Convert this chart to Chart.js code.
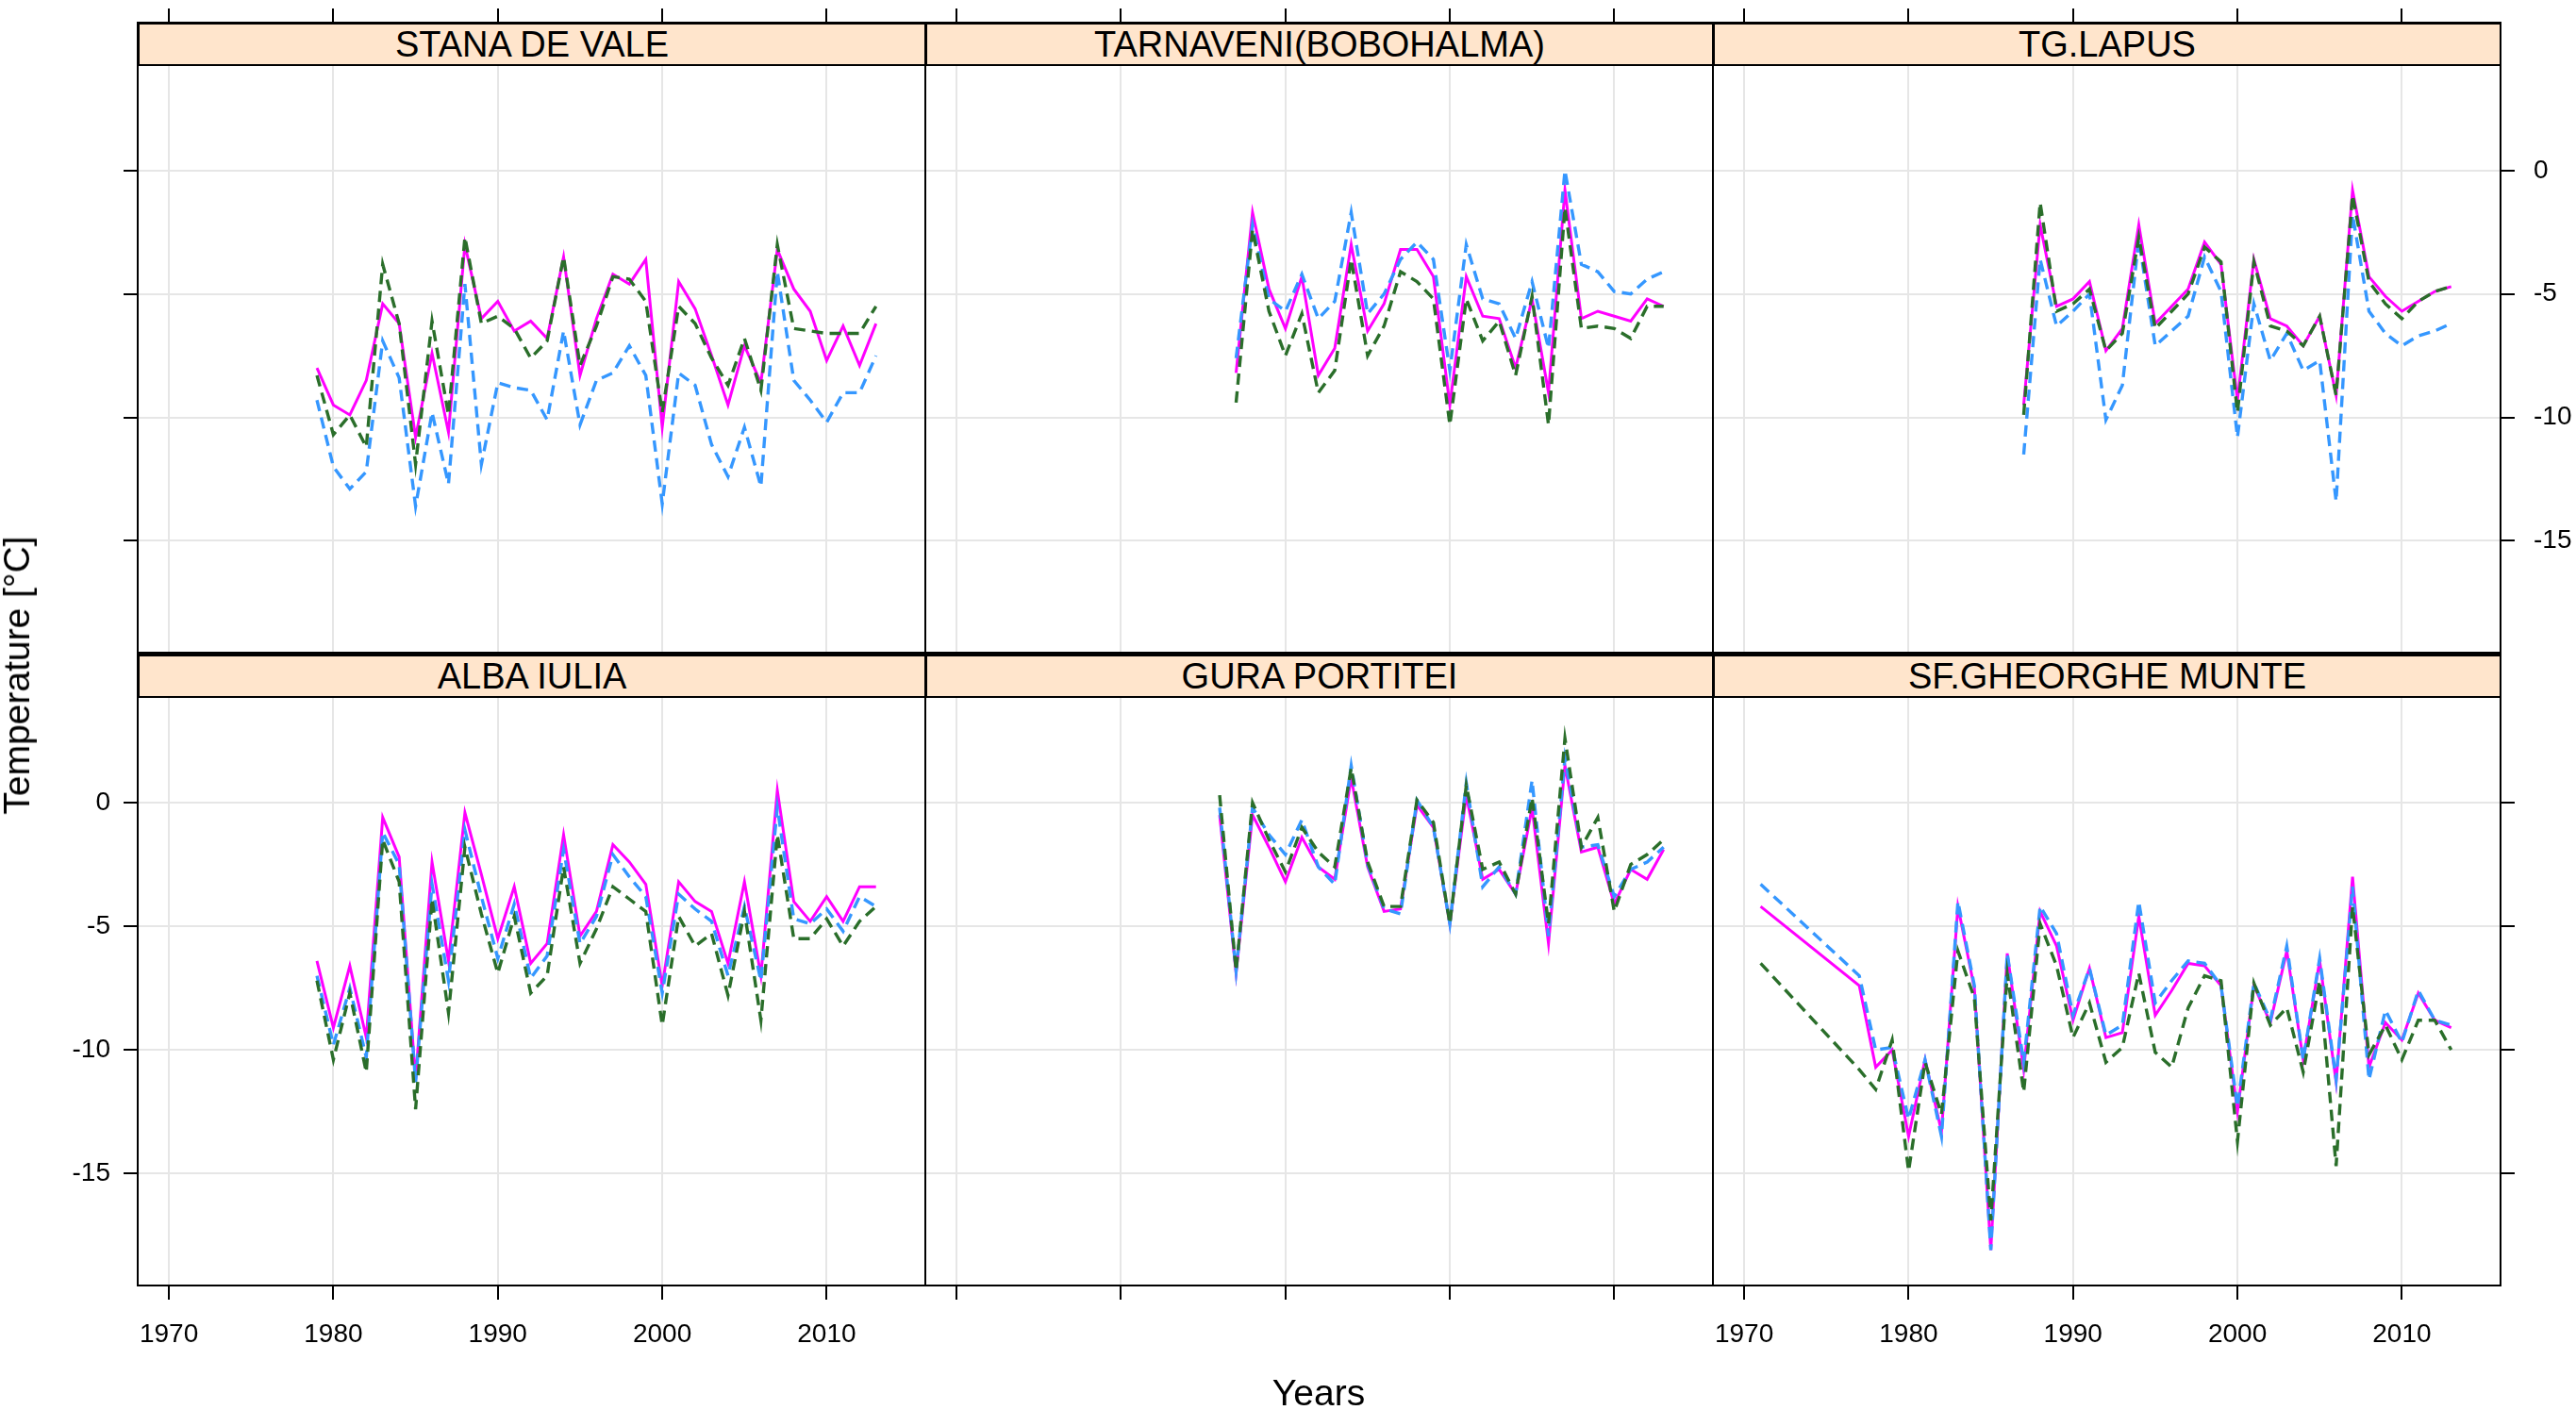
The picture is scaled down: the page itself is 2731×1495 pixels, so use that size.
<!DOCTYPE html>
<html>
<head>
<meta charset="utf-8">
<script src="https://cdn.jsdelivr.net/npm/chart.js@4.4.1/dist/chart.umd.min.js"></script>
<style>
  html, body { margin: 0; padding: 0; background: #fff; }
  body { width: 2731px; height: 1495px; position: relative; overflow: hidden;
         font-family: "Liberation Sans", Arial, sans-serif; }
  canvas { position: absolute; }
  .strip { position: absolute; box-sizing: border-box; background: #ffe5cc;
           border: 2px solid #000; text-align: center; font-size: 38px; color: #000; }
  .title { position: absolute; font-size: 39px; color: #000; white-space: nowrap; }
</style>
</head>
<body>
<script>
'use strict';

// Roky (osa x)
const years79 = [1979, 1980, 1981, 1982, 1983, 1984, 1985, 1986, 1987, 1988, 1989, 1990, 1991, 1992, 1993, 1994, 1995, 1996,
    1997, 1998, 1999, 2000, 2001, 2002, 2003, 2004, 2005, 2006, 2007, 2008, 2009, 2010, 2011, 2012, 2013];
const years87 = [1987, 1988, 1989, 1990, 1991, 1992, 1993, 1994, 1995, 1996, 1997, 1998, 1999, 2000, 2001, 2002, 2003,
    2004, 2005, 2006, 2007, 2008, 2009, 2010, 2011, 2012, 2013];
const years86 = [1986, 1987, 1988, 1989, 1990, 1991, 1992, 1993, 1994, 1995, 1996, 1997, 1998, 1999, 2000, 2001, 2002,
    2003, 2004, 2005, 2006, 2007, 2008, 2009, 2010, 2011, 2012, 2013];
const years71 = [1971, 1977, 1978, 1979, 1980, 1981, 1982, 1983, 1984, 1985, 1986, 1987, 1988, 1989, 1990, 1991, 1992,
    1993, 1994, 1995, 1996, 1997, 1998, 1999, 2000, 2001, 2002, 2003, 2004, 2005, 2006, 2007, 2008, 2009, 2010, 2011,
    2012, 2013];

// Popisky os
const xTicks = [1970, 1980, 1990, 2000, 2010];
const yTicks = [0, -5, -10, -15];

// STANA DE VALE
const stanaPink = [-8.0, -9.5, -9.9, -8.5, -5.4, -6.2, -10.8, -7.4, -10.6, -3.0, -6.0, -5.3, -6.5, -6.1, -6.8, -3.5, -8.3,
    -6.0, -4.2, -4.6, -3.6, -10.4, -4.5, -5.6, -7.5, -9.5, -7.1, -8.6, -3.2, -4.8, -5.7, -7.7, -6.3, -7.9, -6.2];
const stanaBlue = [-9.3, -12.0, -12.9, -12.2, -6.9, -8.4, -13.6, -9.8, -12.7, -4.6, -11.9, -8.6, -8.8, -8.9, -10.1, -6.5,
    -10.3, -8.5, -8.2, -7.1, -8.3, -13.5, -8.2, -8.7, -11.1, -12.4, -10.4, -12.8, -4.1, -8.5, -9.3, -10.2, -9.0, -9.0, -7.5];
const stanaGreen = [-8.3, -10.7, -9.9, -11.2, -3.8, -6.2, -11.9, -6.1, -9.9, -2.7, -6.2, -5.9, -6.4, -7.6, -6.9, -3.5, -7.9,
    -6.3, -4.3, -4.4, -5.3, -9.8, -5.5, -6.2, -7.6, -8.7, -6.8, -8.9, -3.0, -6.4, -6.5, -6.6, -6.6, -6.6, -5.5];

// TARNAVENI(BOBOHALMA)
const tarnPink = [-8.2, -1.7, -4.8, -6.4, -4.3, -8.3, -7.2, -3.0, -6.5, -5.4, -3.2, -3.2, -4.3, -9.5, -4.3, -5.9, -6.0,
    -8.0, -5.2, -9.0, -0.8, -6.0, -5.7, -5.9, -6.1, -5.2, -5.5];
const tarnBlue = [-7.6, -2.2, -5.2, -5.7, -4.2, -6.0, -5.3, -1.7, -5.8, -5.0, -3.6, -2.9, -3.6, -8.1, -3.0, -5.2, -5.4,
    -6.8, -4.5, -7.2, 0.0, -3.8, -4.1, -4.9, -5.0, -4.4, -4.1];
const tarnGreen = [-9.4, -2.4, -5.7, -7.5, -5.8, -9.0, -8.1, -3.6, -7.5, -6.3, -4.1, -4.5, -5.2, -10.3, -5.2, -6.9, -6.1,
    -8.3, -5.1, -10.3, -1.5, -6.4, -6.3, -6.4, -6.8, -5.5, -5.5];

// TG.LAPUS
const lapusPink = [-9.5, -2.2, -5.5, -5.2, -4.5, -7.3, -6.4, -2.2, -6.2, -5.5, -4.8, -2.9, -3.8, -9.3, -3.6, -6.0, -6.3,
    -7.1, -5.9, -9.1, -0.8, -4.3, -5.1, -5.7, -5.3, -4.9, -4.7];
const lapusBlue = [-11.5, -3.6, -6.3, -5.7, -5.0, -10.1, -8.7, -2.8, -7.1, -6.5, -5.9, -3.5, -4.9, -10.8, -5.4, -7.7, -6.6,
    -8.1, -7.7, -13.4, -1.8, -5.7, -6.6, -7.1, -6.7, -6.5, -6.2];
const lapusGreen = [-9.9, -1.3, -5.7, -5.4, -4.8, -7.3, -6.6, -2.7, -6.4, -5.7, -5.0, -3.1, -3.7, -9.8, -3.7, -6.3, -6.5,
    -7.1, -5.9, -9.1, -1.0, -4.5, -5.4, -6.0, -5.3, -4.9, -4.7];

// ALBA IULIA
const albaPink = [-6.4, -9.1, -6.6, -9.5, -0.6, -2.2, -11.2, -2.4, -6.4, -0.4, -2.9, -5.5, -3.4, -6.5, -5.7, -1.3, -5.4,
    -4.4, -1.7, -2.4, -3.3, -7.4, -3.2, -4.0, -4.4, -6.5, -3.2, -7.0, 0.5, -4.0, -4.8, -3.8, -4.8, -3.4, -3.4];
const albaBlue = [-7.0, -9.8, -7.5, -10.3, -1.2, -2.5, -11.3, -3.3, -7.2, -1.1, -3.8, -6.3, -4.1, -7.1, -6.2, -1.9, -5.7,
    -4.6, -2.1, -3.0, -3.8, -7.7, -3.7, -4.3, -4.8, -7.0, -4.2, -7.2, -0.2, -4.7, -4.9, -4.3, -5.2, -3.8, -4.2];
const albaGreen = [-7.2, -10.4, -7.7, -10.9, -1.5, -3.2, -12.4, -3.9, -8.5, -1.8, -4.5, -6.9, -4.6, -7.7, -7.0, -2.6, -6.5,
    -5.1, -3.4, -3.9, -4.4, -9.0, -4.6, -5.8, -5.3, -7.8, -4.4, -8.8, -1.3, -5.5, -5.5, -4.7, -5.8, -4.8, -4.2];

// GURA PORTITEI
const guraPink = [-0.5, -6.9, -0.5, -1.8, -3.2, -1.4, -2.6, -3.1, 1.0, -2.6, -4.4, -4.3, -0.1, -1.0, -4.9, 0.3, -3.1,
    -2.7, -3.7, -0.2, -5.7, 1.5, -2.0, -1.8, -4.1, -2.7, -3.1, -1.9];
const guraBlue = [-0.2, -6.8, -0.2, -1.3, -2.1, -0.7, -2.6, -3.3, 1.5, -2.5, -4.3, -4.5, 0.1, -1.0, -4.9, 0.8, -3.4,
    -2.6, -3.7, 0.9, -5.4, 1.8, -1.8, -1.7, -3.8, -2.7, -2.4, -1.8];
const guraGreen = [0.3, -6.8, 0.0, -1.5, -2.8, -1.0, -2.0, -2.6, 1.4, -2.4, -4.2, -4.2, 0.1, -0.8, -4.9, 0.7, -2.7,
    -2.4, -3.7, 0.2, -4.9, 2.6, -1.8, -0.6, -4.4, -2.5, -2.1, -1.5];

// SF.GHEORGHE MUNTE
const sfPink = [-4.2, -7.4, -10.7, -10.0, -13.5, -10.4, -13.3, -4.2, -7.5, -18.1, -6.1, -10.8, -4.4, -5.8, -8.8, -6.7,
    -9.5, -9.3, -4.6, -8.6, -7.6, -6.5, -6.6, -7.4, -12.5, -7.4, -8.9, -6.0, -10.4, -6.4, -11.3, -3.0, -10.7, -8.9, -9.6,
    -7.7, -8.8, -9.1];
const sfBlue = [-3.3, -7.0, -10.0, -9.9, -12.8, -10.4, -13.5, -4.0, -7.4, -18.1, -6.1, -10.5, -4.2, -5.3, -8.6, -6.7,
    -9.4, -9.0, -4.0, -8.1, -7.2, -6.4, -6.5, -7.4, -12.3, -7.3, -8.8, -5.8, -10.4, -6.3, -11.2, -3.4, -11.2, -8.4, -9.7,
    -7.6, -8.8, -9.0];
const sfGreen = [-6.5, -10.8, -11.6, -9.6, -14.9, -10.5, -12.6, -6.0, -7.9, -16.9, -6.9, -11.7, -4.9, -6.6, -9.5, -8.1,
    -10.5, -9.9, -6.9, -10.1, -10.7, -8.3, -7.0, -7.2, -13.7, -7.3, -9.0, -8.3, -10.9, -7.2, -14.7, -4.2, -10.2, -9.0,
    -10.4, -8.8, -8.8, -10.0];

const panels = [
    { title: 'STANA DE VALE', row: 0, col: 0, years: years79, pink: stanaPink, blue: stanaBlue, green: stanaGreen },
    { title: 'TARNAVENI(BOBOHALMA)', row: 0, col: 1, years: years87, pink: tarnPink, blue: tarnBlue, green: tarnGreen },
    { title: 'TG.LAPUS', row: 0, col: 2, years: years87, pink: lapusPink, blue: lapusBlue, green: lapusGreen },
    { title: 'ALBA IULIA', row: 1, col: 0, years: years79, pink: albaPink, blue: albaBlue, green: albaGreen },
    { title: 'GURA PORTITEI', row: 1, col: 1, years: years86, pink: guraPink, blue: guraBlue, green: guraGreen },
    { title: 'SF.GHEORGHE MUNTE', row: 1, col: 2, years: years71, pink: sfPink, blue: sfBlue, green: sfGreen }
];

// Rozložení (px)
const COL_LEFT = [146, 981, 1816];
const PANEL_W = 835;
const STRIP_TOP = [24, 694];
const STRIP_H = 45;
const PLOT_BOTTOM = [692, 1363];
const MARGIN = 130;
const TICK = 15;
const X_MIN = 1968.1, X_MAX = 2016.0;
const Y_MIN = -19.53, Y_MAX = 5.99; // Y_MAX = horní okraj stripu

const GRID = '#e6e6e6';
const FONT = { family: '"Liberation Sans", Arial, sans-serif', size: 28 };

Chart.defaults.font.family = FONT.family;

// Osa zabírá celý okraj, aby se popisky neořízly
function fixSize(scale) {
    if (scale.isHorizontal()) scale.height = MARGIN;
    else scale.width = MARGIN;
}

function axis(position, min, max, values, showTicks, showLabels, gridColor, labelPad) {
    return {
        type: 'linear',
        position: position,
        min: min,
        max: max,
        afterBuildTicks: (scale) => { scale.ticks = values.map(v => ({ value: v })); },
        afterFit: fixSize,
        grid: {
            display: true,
            drawOnChartArea: gridColor !== null,
            color: gridColor || 'transparent',
            lineWidth: 2,
            drawTicks: true,
            tickLength: TICK,
            tickWidth: 2,
            tickColor: showTicks ? '#000' : 'transparent'
        },
        border: { display: true, color: '#000', width: 2 },
        ticks: {
            display: showLabels,
            color: '#000',
            font: FONT,
            padding: labelPad,
            maxRotation: 0,
            autoSkip: false,
            callback: (v) => String(v)
        }
    };
}

function points(xs, ys) {
    return xs.map((x, i) => ({ x: x, y: ys[i] }));
}

function makePanel(p) {
    const left = COL_LEFT[p.col];
    const top = STRIP_TOP[p.row];
    const h = PLOT_BOTTOM[p.row] - top;

    const canvas = document.createElement('canvas');
    canvas.width = PANEL_W + 2 * MARGIN;
    canvas.height = h + 2 * MARGIN;
    canvas.style.left = (left - MARGIN) + 'px';
    canvas.style.top = (top - MARGIN) + 'px';
    document.body.appendChild(canvas);

    const bottomRow = p.row === 1;

    new Chart(canvas.getContext('2d'), {
        type: 'line',
        data: {
            datasets: [
                { data: points(p.years, p.pink), borderColor: '#ff00ff', borderWidth: 3, order: 2 },
                { data: points(p.years, p.blue), borderColor: '#3597ff', borderWidth: 3.4, borderDash: [12, 7], order: 1 },
                { data: points(p.years, p.green), borderColor: '#2a6e2a', borderWidth: 3.4, borderDash: [12, 7], order: 0 }
            ]
        },
        options: {
            responsive: false,
            animation: false,
            events: [],
            layout: { padding: 0 },
            elements: { point: { radius: 0 }, line: { tension: 0, fill: false } },
            scales: {
                x: axis('bottom', X_MIN, X_MAX, xTicks, bottomRow, bottomRow && p.col !== 1, GRID, 20),
                x2: axis('top', X_MIN, X_MAX, xTicks, !bottomRow, false, null, 12),
                y: axis('left', Y_MIN, Y_MAX, yTicks, p.col === 0, bottomRow && p.col === 0, GRID, 14),
                y2: axis('right', Y_MIN, Y_MAX, yTicks, p.col === 2, !bottomRow && p.col === 2, null, 20)
            },
            plugins: { legend: { display: false }, tooltip: { enabled: false } }
        }
    });

    // Strip s názvem stanice
    const strip = document.createElement('div');
    strip.className = 'strip';
    strip.style.left = left + 'px';
    strip.style.top = top + 'px';
    strip.style.width = (PANEL_W + 1) + 'px';
    strip.style.height = (STRIP_H + 1) + 'px';
    strip.style.lineHeight = (STRIP_H - 2) + 'px';
    strip.textContent = p.title;
    document.body.appendChild(strip);
}

panels.forEach(makePanel);

// Názvy os
const xTitle = document.createElement('div');
xTitle.className = 'title';
xTitle.textContent = 'Years';
xTitle.style.left = '1398px';
xTitle.style.top = '1477px';
xTitle.style.transform = 'translate(-50%, -50%)';
document.body.appendChild(xTitle);

const yTitle = document.createElement('div');
yTitle.className = 'title';
yTitle.textContent = 'Temperature [°C]';
yTitle.style.left = '18px';
yTitle.style.top = '716px';
yTitle.style.transform = 'translate(-50%, -50%) rotate(-90deg)';
document.body.appendChild(yTitle);
</script>
</body>
</html>
